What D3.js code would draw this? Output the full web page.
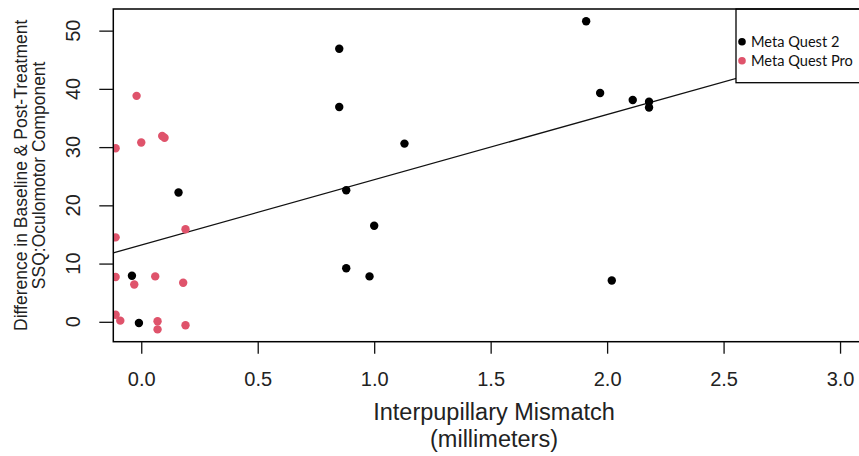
<!DOCTYPE html>
<html>
<head>
<meta charset="utf-8">
<script src="https://cdn.jsdelivr.net/npm/d3@7"></script>
<style>
  html, body { margin: 0; padding: 0; background: #fff; }
  svg { display: block; }
  .axis text { font-family: "Liberation Sans", Arial, sans-serif; fill: #222; }
  .lab { font-family: "Liberation Sans", Arial, sans-serif; fill: #222; }
  .leg { font-family: Lato, "Open Sans", sans-serif; fill: #111; }
</style>
</head>
<body>
<div id="chart"></div>
<script>
// Interpupillary mismatch vs. SSQ oculomotor difference

const quest2X = [-0.04, -0.01, 0.16, 0.85, 0.85, 0.88, 0.88, 0.98, 1.00, 1.13, 1.91, 1.97, 2.02, 2.11, 2.18, 2.18];
const quest2Y = [7.9, -0.2, 22.2, 46.9, 36.9, 22.6, 9.2, 7.8, 16.5, 30.6, 51.6, 39.3, 7.1, 38.1, 37.8, 36.8];

const questProX = [-0.02, 0.00, 0.09, 0.10, -0.11, 0.19, -0.11, -0.11, -0.03, 0.06, 0.18, -0.11, -0.09, 0.07, 0.07, 0.19];
const questProY = [38.8, 30.8, 31.9, 31.6, 29.8, 15.9, 14.5, 7.7, 6.4, 7.8, 6.7, 1.2, 0.2, 0.1, -1.3, -0.6];

// fitted line: intercept, slope
const fit = [13.2, 11.2];

const xTicks = [0, 0.5, 1, 1.5, 2, 2.5, 3];
const yTicks = [0, 10, 20, 30, 40, 50];
const xLim = [0, 3];
const seriesNames = ['Meta Quest 2', 'Meta Quest Pro'];
const seriesColors = ['#000000', '#DF536B'];

const W = 859, H = 456;
const P = { left: 113.3, right: 868, top: 9, bottom: 341.7 };

// R style 4% padding on the axis ranges
const pad = (a, b) => [a - 0.04 * (b - a), b + 0.04 * (b - a)];
const allY = quest2Y.concat(questProY);

const x = d3.scaleLinear().domain(pad(xLim[0], xLim[1])).range([P.left, P.right]);
const y = d3.scaleLinear().domain(pad(d3.min(allY), d3.max(allY))).range([P.bottom, P.top]);

const svg = d3.select('#chart').append('svg')
  .attr('width', W).attr('height', H)
  .attr('viewBox', `0 0 ${W} ${H}`);

svg.append('rect').attr('width', W).attr('height', H).attr('fill', '#fff');

svg.append('clipPath').attr('id', 'plotclip')
  .append('rect')
    .attr('x', P.left).attr('y', P.top)
    .attr('width', P.right - P.left).attr('height', P.bottom - P.top);

const plot = svg.append('g').attr('clip-path', 'url(#plotclip)');

// regression line across the whole plot region
const xd = x.domain();
plot.append('line')
  .attr('x1', x(xd[0])).attr('y1', y(fit[0] + fit[1] * xd[0]))
  .attr('x2', x(xd[1])).attr('y2', y(fit[0] + fit[1] * xd[1]))
  .attr('stroke', '#111').attr('stroke-width', 1.3);

const series = [
  { xs: quest2X, ys: quest2Y, color: seriesColors[0] },
  { xs: questProX, ys: questProY, color: seriesColors[1] }
];

series.forEach(s => {
  plot.selectAll(null)
    .data(s.xs.map((v, i) => ({ x: v, y: s.ys[i] })))
    .enter().append('circle')
      .attr('cx', d => x(d.x))
      .attr('cy', d => y(d.y))
      .attr('r', 4.2)
      .attr('fill', s.color);
});

// legend (topright, white background over the line)
const legX = 736;
const leg = svg.append('g');
leg.append('rect')
  .attr('x', legX).attr('y', P.top)
  .attr('width', P.right - legX).attr('height', 82.7 - P.top)
  .attr('fill', '#fff').attr('stroke', '#000').attr('stroke-width', 1.3);

seriesNames.forEach((name, i) => {
  const cy = 41.7 + i * 19;
  leg.append('circle').attr('cx', legX + 6).attr('cy', cy).attr('r', 3.8).attr('fill', seriesColors[i]);
  leg.append('text').attr('class', 'leg')
    .attr('x', legX + 15).attr('y', cy + 5)
    .attr('font-size', 14.6)
    .text(name);
});

// plot box
svg.append('rect')
  .attr('x', P.left).attr('y', P.top)
  .attr('width', P.right - P.left).attr('height', P.bottom - P.top)
  .attr('fill', 'none').attr('stroke', '#000').attr('stroke-width', 1.5);

// x axis
const xAxis = svg.append('g').attr('class', 'axis')
  .attr('transform', `translate(0,${P.bottom})`)
  .call(d3.axisBottom(x).tickValues(xTicks).tickFormat(d3.format('.1f'))
    .tickSize(12).tickPadding(18.5));
xAxis.select('.domain').remove();
xAxis.selectAll('line').attr('stroke', '#111').attr('stroke-width', 1.3);
xAxis.selectAll('text').attr('font-size', 20).attr('fill', '#222');

// y axis (labels parallel to the axis, as R does)
const yAxis = svg.append('g').attr('class', 'axis')
  .attr('transform', `translate(${P.left},0)`)
  .call(d3.axisLeft(y).tickValues(yTicks).tickFormat('').tickSize(14));
yAxis.select('.domain').remove();
yAxis.selectAll('line').attr('stroke', '#111').attr('stroke-width', 1.3);

svg.append('g').selectAll('text')
  .data(yTicks)
  .enter().append('text')
    .attr('class', 'lab')
    .attr('transform', d => `translate(80,${y(d)}) rotate(-90)`)
    .attr('text-anchor', 'middle')
    .attr('font-size', 20)
    .text(d => d);

// axis titles
const xTitle = svg.append('text').attr('class', 'lab')
  .attr('x', 494).attr('text-anchor', 'middle').attr('font-size', 23.5);
xTitle.append('tspan').attr('x', 494).attr('y', 420).text('Interpupillary Mismatch');
xTitle.append('tspan').attr('x', 494).attr('y', 447).text('(millimeters)');

const yMid = (P.top + P.bottom) / 2;
svg.append('text').attr('class', 'lab')
  .attr('transform', `translate(27,${yMid}) rotate(-90)`)
  .attr('text-anchor', 'middle').attr('font-size', 17.5)
  .text('Difference in Baseline & Post-Treatment');
svg.append('text').attr('class', 'lab')
  .attr('transform', `translate(45,${yMid}) rotate(-90)`)
  .attr('text-anchor', 'middle').attr('font-size', 17.5)
  .text('SSQ:Oculomotor Component');
</script>
</body>
</html>
